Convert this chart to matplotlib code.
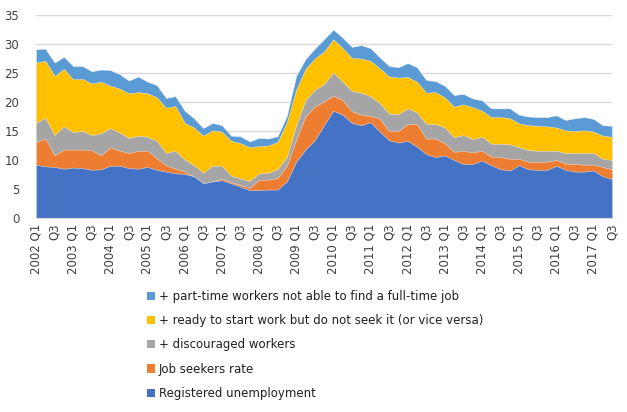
import matplotlib
matplotlib.use("Agg")
import matplotlib.pyplot as plt
import numpy as np
from matplotlib.patches import Patch

years = list(range(2002, 2018))
quarters = [f"{y} Q{q}" for y in years for q in range(1, 5)][:63]

registered = [9.2, 8.9, 8.8, 8.5, 8.7, 8.6, 8.3, 8.4, 9.0, 9.0, 8.6, 8.5, 8.8, 8.3, 8.0, 7.7,
              7.6, 7.2, 6.0, 6.3, 6.5, 6.0, 5.4, 4.8, 4.8, 4.9, 4.9, 6.3, 9.7, 11.8, 13.4, 16.0,
              18.5, 17.8, 16.4, 16.0, 16.5, 14.9, 13.4, 13.0, 13.3, 12.3, 11.0, 10.5, 10.8, 10.0, 9.3, 9.3,
              9.9, 9.1, 8.4, 8.2, 9.1, 8.4, 8.3, 8.3, 9.0, 8.3, 8.0, 8.0, 8.2, 7.2, 6.7]
job_seekers = [13.1, 13.7, 10.8, 11.8, 11.8, 11.8, 11.7, 10.8, 12.2, 11.6, 11.2, 11.6, 11.6, 10.3, 9.1, 8.5,
               8.0, 7.2, 6.0, 6.3, 6.8, 6.2, 5.7, 5.2, 6.6, 6.6, 6.9, 9.0, 13.5, 17.5, 19.2, 20.1,
               21.1, 20.3, 18.4, 17.8, 17.6, 17.1, 15.0, 15.0, 16.2, 16.2, 13.7, 13.7, 12.9, 11.4, 11.6, 11.3,
               11.6, 10.6, 10.5, 10.2, 10.2, 9.7, 9.7, 9.7, 10.0, 9.4, 9.3, 9.2, 9.2, 8.8, 8.4]
discouraged = [16.4, 17.3, 14.3, 15.8, 14.8, 15.0, 14.3, 14.6, 15.5, 14.7, 13.8, 14.2, 14.0, 13.3, 11.2, 11.6,
               10.1, 9.1, 7.8, 9.0, 9.0, 7.3, 6.8, 6.4, 7.7, 7.8, 8.4, 10.5, 16.0, 20.3, 22.1, 23.1,
               25.1, 23.5, 21.9, 21.6, 21.0, 19.8, 18.0, 17.9, 18.9, 18.2, 16.2, 16.2, 15.6, 13.9, 14.3, 13.6,
               14.0, 12.8, 12.8, 12.7, 12.2, 11.7, 11.6, 11.6, 11.6, 11.2, 11.2, 11.2, 11.2, 10.2, 10.0]
ready = [26.8, 27.1, 24.5, 25.7, 23.9, 24.0, 23.2, 23.5, 22.8, 22.3, 21.5, 21.7, 21.5, 20.8, 19.0, 19.3,
         16.4, 15.6, 14.2, 15.1, 14.9, 13.3, 12.9, 12.2, 12.4, 12.5, 13.1, 16.5, 22.1, 25.7, 27.5, 28.7,
         30.8, 29.3, 27.6, 27.5, 27.1, 25.8, 24.4, 24.2, 24.3, 23.5, 21.6, 21.7, 20.8, 19.2, 19.6, 19.1,
         18.5, 17.4, 17.4, 17.2, 16.3, 16.0, 15.9, 15.8, 15.6, 15.1, 15.0, 15.1, 14.9, 14.2, 14.0]
part_time = [29.1, 29.2, 26.8, 27.8, 26.2, 26.2, 25.3, 25.6, 25.5, 24.8, 23.7, 24.4, 23.5, 22.9, 20.7, 21.0,
             18.5, 17.2, 15.5, 16.4, 16.0, 14.2, 14.1, 13.2, 13.8, 13.7, 14.1, 17.6, 24.5, 27.4, 29.2, 30.8,
             32.5, 31.1, 29.5, 29.8, 29.3, 27.7, 26.2, 26.0, 26.7, 26.0, 23.8, 23.6, 22.8, 21.2, 21.4, 20.6,
             20.3, 18.9, 18.9, 18.9, 17.8, 17.5, 17.4, 17.4, 17.7, 16.9, 17.2, 17.4, 17.1, 16.0, 15.9]

series_names = ["+ part-time workers not able to find a full-time job",
                "+ ready to start work but do not seek it (or vice versa)",
                "+ discouraged workers",
                "Job seekers rate",
                "Registered unemployment"]
series_values = [part_time, ready, discouraged, job_seekers, registered]
colors = ["#5B9BD5", "#FFC000", "#A5A5A5", "#ED7D31", "#4472C4"]

tick_labels = []
for q in quarters:
    y, qq = q.split()
    if qq == "Q1":
        tick_labels.append(q)
    elif qq == "Q3":
        tick_labels.append("Q3")
    else:
        tick_labels.append(None)

plt.rcParams['font.family'] = ['DejaVu Sans']
fig = plt.figure(figsize=(6.27, 4.12), dpi=100)
ax = fig.add_axes([36/627, 1-218/412, (612-36)/627, (218-15)/412])

x = np.arange(len(quarters))
for name, vals, c in zip(series_names, series_values, colors):
    ax.fill_between(x, 0, vals, facecolor=c, linewidth=0.3, edgecolor="#F4F4F4", label=name, zorder=2)

ax.set_xlim(0, len(quarters) - 1)
ax.set_ylim(0, 35)
ax.set_yticks(range(0, 36, 5))
ax.yaxis.grid(True, color="#D9D9D9", linewidth=1)
ax.set_axisbelow(True)
for s in ["top", "right", "left"]:
    ax.spines[s].set_visible(False)
ax.spines["bottom"].set_color("#D9D9D9")
ax.tick_params(axis="y", length=0, labelsize=8.5, colors="#404040", pad=12)

tick_pos = [i for i, t in enumerate(tick_labels) if t is not None]
ax.set_xticks(tick_pos)
ax.set_xticklabels([tick_labels[i] for i in tick_pos], rotation=90, fontsize=8.5, color="#404040")
ax.tick_params(axis="x", length=0, pad=4)

leg_handles = [Patch(facecolor=c, edgecolor="none") for c in colors]
fig.legend(leg_handles, series_names, loc="upper left", bbox_to_anchor=(141/627, 1-284/412),
           frameon=False, fontsize=8.5, handlelength=0.7, handleheight=0.7,
           handletextpad=0.3, labelspacing=0.95, borderpad=0, labelcolor="#202020")

fig.savefig("out.png", dpi=100)
